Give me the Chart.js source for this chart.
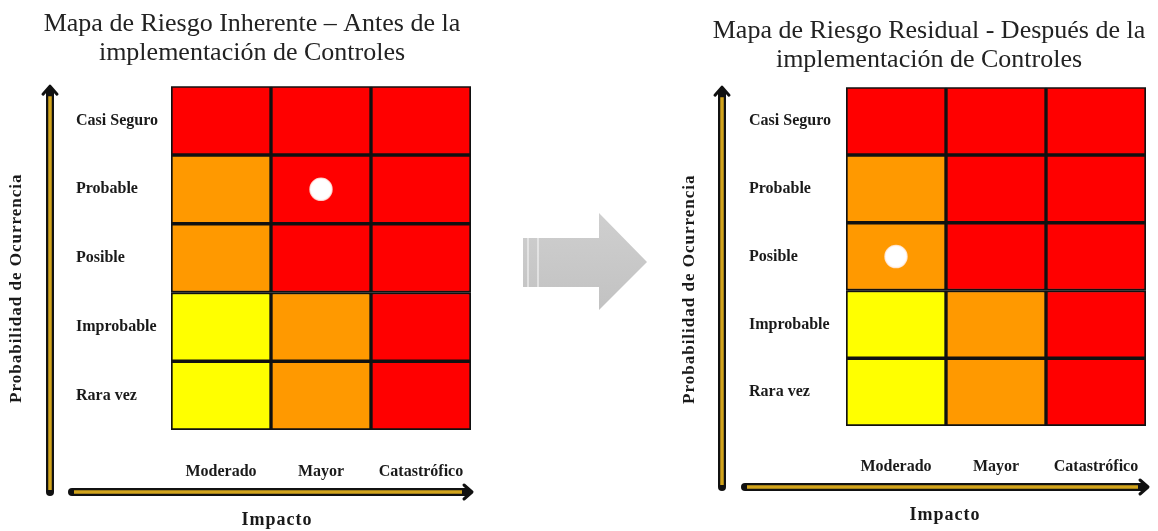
<!DOCTYPE html>
<html>
<head>
<meta charset="utf-8">
<script src="https://cdn.jsdelivr.net/npm/chart.js@4/dist/chart.umd.min.js"></script>
<style>
  body { margin: 0; background: #fff; }
  #wrap { position: relative; width: 1158px; height: 531px; overflow: hidden; }
  canvas, svg { position: absolute; top: 0; }
  #antes { left: 0; }
  #despues { left: 670px; }
  #flecha { left: 0; }
</style>
</head>
<body>
<div id="wrap">
  <canvas id="antes" width="500" height="531"></canvas>
  <svg id="flecha" width="1158" height="531">
    <defs>
      <linearGradient id="gris" x1="0" y1="0" x2="0" y2="1">
        <stop offset="0" stop-color="#cfcfcf"/>
        <stop offset="1" stop-color="#c2c2c2"/>
      </linearGradient>
    </defs>
    <polygon points="523,238 599,238 599,213 647,262 599,310 599,287 523,287" fill="url(#gris)"/>
    <line x1="528" y1="238" x2="528" y2="287" stroke="#f4f4f4" stroke-width="1.2"/>
    <line x1="538" y1="238" x2="538" y2="287" stroke="#f4f4f4" stroke-width="1.2"/>
  </svg>
  <canvas id="despues" width="500" height="531"></canvas>
</div>
<script>
// ejes del mapa de riesgo
const impacto = ['Moderado', 'Mayor', 'Catastrófico'];
const probabilidad = ['Rara vez', 'Improbable', 'Posible', 'Probable', 'Casi Seguro']; // de abajo hacia arriba

// nivel de cada celda por fila (Y = bajo, O = medio, R = alto)
const nivelesInherente = [
  ['Y', 'O', 'R'],
  ['Y', 'O', 'R'],
  ['O', 'R', 'R'],
  ['O', 'R', 'R'],
  ['R', 'R', 'R'],
];
const nivelesResidual = [
  ['Y', 'O', 'R'],
  ['Y', 'O', 'R'],
  ['O', 'R', 'R'],
  ['O', 'R', 'R'],
  ['R', 'R', 'R'],
];

// ubicación del riesgo evaluado
const riesgoInherente = { impacto: 'Mayor', probabilidad: 'Probable' };
const riesgoResidual = { impacto: 'Moderado', probabilidad: 'Posible' };

const tituloInherente = ['Mapa de Riesgo Inherente – Antes de la', 'implementación de Controles'];
const tituloResidual = ['Mapa de Riesgo Residual - Después de la', 'implementación de Controles'];

const colores = { Y: '#ffff00', O: '#ff9900', R: '#ff0000' };
const serif = "'Liberation Serif', 'Times New Roman', serif";
const oro = '#d2a41c';

// flechas y títulos de los ejes
const ejesPlugin = {
  id: 'ejes',
  afterDraw(chart, args, opts) {
    const { ctx, chartArea: a } = chart;
    const vx = a.left - opts.dx;
    const vTop = a.top;
    const hy = a.bottom + opts.dy;
    const hLeft = a.left - opts.hx;
    const hRight = a.left + opts.fin;
    ctx.save();
    ctx.lineCap = 'round';
    ctx.lineJoin = 'round';
    // contorno negro
    ctx.lineWidth = 8;
    ctx.strokeStyle = '#111';
    ctx.beginPath(); ctx.moveTo(vx, hy); ctx.lineTo(vx, vTop + 6); ctx.stroke();
    ctx.beginPath(); ctx.moveTo(hLeft, hy); ctx.lineTo(hRight - 6, hy); ctx.stroke();
    // relleno dorado
    ctx.lineWidth = 3.5;
    ctx.strokeStyle = oro;
    ctx.lineCap = 'butt';
    ctx.beginPath(); ctx.moveTo(vx, hy - 2); ctx.lineTo(vx, vTop + 10); ctx.stroke();
    ctx.beginPath(); ctx.moveTo(hLeft + 2, hy); ctx.lineTo(hRight - 10, hy); ctx.stroke();
    // puntas
    ctx.strokeStyle = '#111';
    ctx.lineWidth = 3;
    ctx.lineCap = 'round';
    ctx.beginPath();
    ctx.moveTo(vx - 7, vTop + 8); ctx.lineTo(vx, vTop); ctx.lineTo(vx + 7, vTop + 8);
    ctx.stroke();
    ctx.beginPath();
    ctx.moveTo(hRight - 8, hy - 7); ctx.lineTo(hRight, hy); ctx.lineTo(hRight - 8, hy + 7);
    ctx.stroke();

    // títulos
    ctx.fillStyle = '#1a1a1a';
    ctx.textAlign = 'center';
    ctx.textBaseline = 'middle';
    ctx.letterSpacing = '1px';
    ctx.font = 'bold 17px ' + serif;
    ctx.save();
    ctx.translate(a.left - opts.ty, a.top + 202);
    ctx.rotate(-Math.PI / 2);
    ctx.fillText('Probabilidad de Ocurrencia', 0, 0);
    ctx.restore();
    ctx.font = 'bold 18px ' + serif;
    ctx.fillText('Impacto', a.left + opts.tx, a.bottom + opts.dy + 28);
    ctx.restore();
  }
};

function crearMapa(id, titulo, niveles, riesgo, medidas) {
  const datasets = niveles.map((fila, i) => ({
    type: 'bar',
    label: probabilidad[i],
    data: impacto.map(() => [i, i + 1]),
    backgroundColor: fila.map((n) => colores[n]),
    borderColor: '#111',
    borderWidth: 2,
    borderSkipped: false,
    barPercentage: 1,
    categoryPercentage: 1,
    grouped: false,
    yAxisID: 'y',
  }));

  datasets.push({
    type: 'line',
    label: 'Riesgo',
    data: [{ x: riesgo.impacto, y: probabilidad.indexOf(riesgo.probabilidad) + 0.5 }],
    showLine: false,
    pointRadius: 11,
    pointBackgroundColor: '#ffffff',
    pointBorderColor: 'rgba(255,240,235,0.8)',
    pointBorderWidth: 1.5,
    order: -1,
    yAxisID: 'y',
  });

  return new Chart(document.getElementById(id), {
    type: 'bar',
    data: { labels: impacto, datasets: datasets },
    options: {
      responsive: false,
      animation: false,
      layout: { padding: { left: medidas.padL, right: medidas.padR, top: 0, bottom: 0 } },
      plugins: {
        legend: { display: false },
        tooltip: { enabled: false },
        title: {
          display: true,
          text: titulo,
          color: '#222',
          font: { family: serif, size: 26, weight: 'normal', lineHeight: 1.1 },
          padding: { top: medidas.tTop, bottom: medidas.tBottom },
        },
        ejes: medidas.ejes,
      },
      scales: {
        x: {
          type: 'category',
          grid: { display: false },
          border: { display: false },
          ticks: {
            color: '#1a1a1a',
            padding: medidas.xPad,
            font: { family: serif, size: 16, weight: 'bold' },
          },
          afterFit(s) { s.height = medidas.xAlto; },
        },
        y: {
          type: 'linear',
          min: 0,
          max: probabilidad.length,
          grid: { display: false },
          border: { display: false },
          afterBuildTicks(s) {
            s.ticks = probabilidad.map((p, i) => ({ value: i + 0.5 }));
          },
          ticks: {
            crossAlign: 'far',
            color: '#1a1a1a',
            font: { family: serif, size: 16, weight: 'bold' },
            callback: (v, i) => probabilidad[i],
          },
          afterFit(s) { s.width = medidas.yAncho; },
        },
        margen: {
          type: 'linear',
          position: 'left',
          weight: 1,
          grid: { display: false },
          border: { display: false },
          ticks: { display: false },
          afterFit(s) { s.width = medidas.margen; },
        },
      },
    },
    plugins: [ejesPlugin],
  });
}

crearMapa('antes', tituloInherente, nivelesInherente, riesgoInherente, {
  padL: 33, padR: 29, tTop: 10, tBottom: 19, xPad: 24, xAlto: 101, yAncho: 95, margen: 43,
  ejes: { dx: 121, dy: 62, hx: 99, ty: 154, tx: 106, fin: 301 },
});

crearMapa('despues', tituloResidual, nivelesResidual, riesgoResidual, {
  padL: 42, padR: 24, tTop: 17, tBottom: 13, xPad: 23, xAlto: 105, yAncho: 97, margen: 37,
  ejes: { dx: 124, dy: 61, hx: 101, ty: 156, tx: 99, fin: 302 },
});
</script>
</body>
</html>
